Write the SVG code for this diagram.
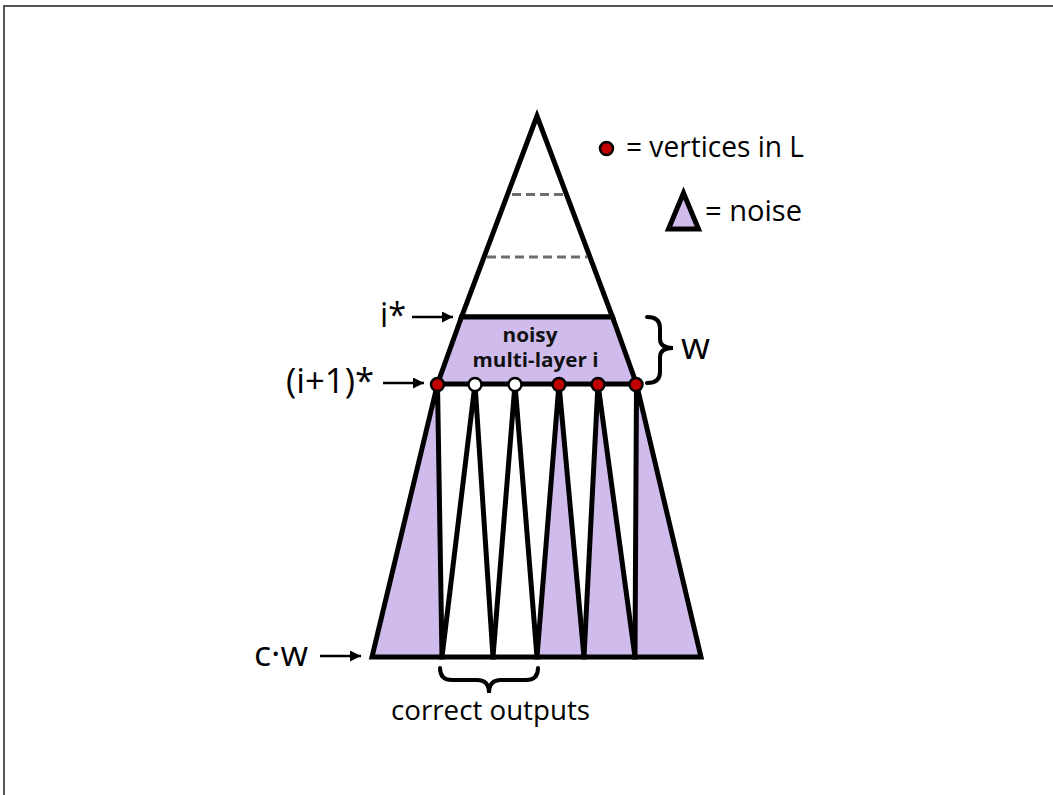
<svg xmlns="http://www.w3.org/2000/svg" width="1053" height="795" viewBox="0 0 1053 795">
  <style>
    .tri { stroke: #000; stroke-width: 5; stroke-linejoin: miter; }
    .noise { fill: #d0bcec; }
    .clean { fill: #fff; }
    .dash { stroke: #6e6e6e; stroke-width: 3; stroke-dasharray: 9 5; fill: none; }
    .vL { fill: #c00000; stroke: #000; stroke-width: 2.5; }
    .vN { fill: #fff; stroke: #000; stroke-width: 2.5; }
    .lbl { font-family: "Open Sans", "Liberation Sans", sans-serif; fill: #000; }
    .bold { font-family: "Open Sans", "Liberation Sans", sans-serif; font-weight: bold; fill: #111; }
    .arrow { stroke: #000; stroke-width: 2.5; fill: none; marker-end: url(#ah); }
    .brace { stroke: #000; stroke-width: 4; fill: none; stroke-linecap: round; }
  </style>
  <defs>
    <marker id="ah" viewBox="0 0 10 10" refX="10" refY="5" markerWidth="5" markerHeight="4.4" markerUnits="strokeWidth" orient="auto">
      <path d="M0,0 L10,5 L0,10 z" fill="#000"/>
    </marker>
  </defs>

  <rect width="1053" height="795" fill="#fff"/>
  <g id="frame">
    <path d="M4,795 L4,6 L1053,6" stroke="#555" stroke-width="2" fill="none"/>
  </g>

  <g id="top-tree">
    <polygon class="tri clean" points="537,116 461.5,317 612.5,317"/>
    <line class="dash" x1="512" y1="194.5" x2="564" y2="194.5"/>
    <line class="dash" x1="487" y1="257" x2="587" y2="257"/>
  </g>

  <g id="noisy-layer">
    <polygon class="tri noise" points="461.5,317 612.5,317 636.5,384 437.5,384"/>
    <text class="bold" x="530" y="342" font-size="19.5" text-anchor="middle" textLength="55" lengthAdjust="spacingAndGlyphs">noisy</text>
    <text class="bold" x="535.5" y="367" font-size="19.5" text-anchor="middle" textLength="126" lengthAdjust="spacingAndGlyphs">multi-layer i</text>
  </g>

  <g id="subtrees">
    <polygon id="sub1" class="tri noise" points="437.5,384 372,657 442,657"/>
    <polygon id="sub2" class="tri clean" points="475,384 442,657 493,657"/>
    <polygon id="sub3" class="tri clean" points="515,384 493,657 537,657"/>
    <polygon id="sub4" class="tri noise" points="559,384 537,657 584,657"/>
    <polygon id="sub5" class="tri noise" points="598,384 584,657 635,657"/>
    <polygon id="sub6" class="tri noise" points="636.5,384 635,657 701,657"/>
  </g>

  <g id="vertices">
    <circle id="v1" class="vL" cx="437.5" cy="384.5" r="6.5"/>
    <circle id="v2" class="vN" cx="475" cy="384.5" r="6.5"/>
    <circle id="v3" class="vN" cx="515" cy="384.5" r="6.5"/>
    <circle id="v4" class="vL" cx="559" cy="384.5" r="6.5"/>
    <circle id="v5" class="vL" cx="598" cy="384.5" r="6.5"/>
    <circle id="v6" class="vL" cx="636" cy="384.5" r="6.5"/>
  </g>

  <g id="connectors">
    <line class="arrow" x1="412" y1="317" x2="453" y2="317"/>
    <line class="arrow" x1="383" y1="383" x2="424" y2="383"/>
    <line class="arrow" x1="320" y1="656" x2="361" y2="656"/>
  </g>

  <g id="labels">
    <text class="lbl" x="380" y="327" font-size="34" textLength="26" lengthAdjust="spacingAndGlyphs">i*</text>
    <text class="lbl" x="286" y="393" font-size="34" textLength="88" lengthAdjust="spacingAndGlyphs">(i+1)*</text>
    <text class="lbl" x="254" y="666" font-size="34" textLength="54" lengthAdjust="spacingAndGlyphs">c·w</text>
  </g>

  <g id="width-brace">
    <path class="brace" d="M647,317 Q660,317 660,328 L660,339 Q660,348 673,348 Q660,348 660,357 L660,372 Q660,383 647,383"/>
    <text class="lbl" x="681" y="359" font-size="36" textLength="29" lengthAdjust="spacingAndGlyphs">w</text>
  </g>

  <g id="outputs-brace">
    <path class="brace" d="M440,668 Q440,680 452,680 L477,680 Q489,680 489,693 Q489,680 501,680 L526,680 Q538,680 538,668"/>
    <text class="lbl" x="391" y="720" font-size="28" textLength="199" lengthAdjust="spacingAndGlyphs">correct outputs</text>
  </g>

  <g id="legend">
    <g id="legend-vertex">
      <circle class="vL" cx="606.5" cy="148.5" r="6.5"/>
      <text class="lbl" x="626" y="157" font-size="29" textLength="178" lengthAdjust="spacingAndGlyphs">= vertices in L</text>
    </g>
    <g id="legend-noise">
      <polygon class="tri noise" stroke-width="4" points="683.5,193 668.5,229 698.5,229"/>
      <text class="lbl" x="705" y="221" font-size="29" textLength="97" lengthAdjust="spacingAndGlyphs">= noise</text>
    </g>
  </g>
</svg>
